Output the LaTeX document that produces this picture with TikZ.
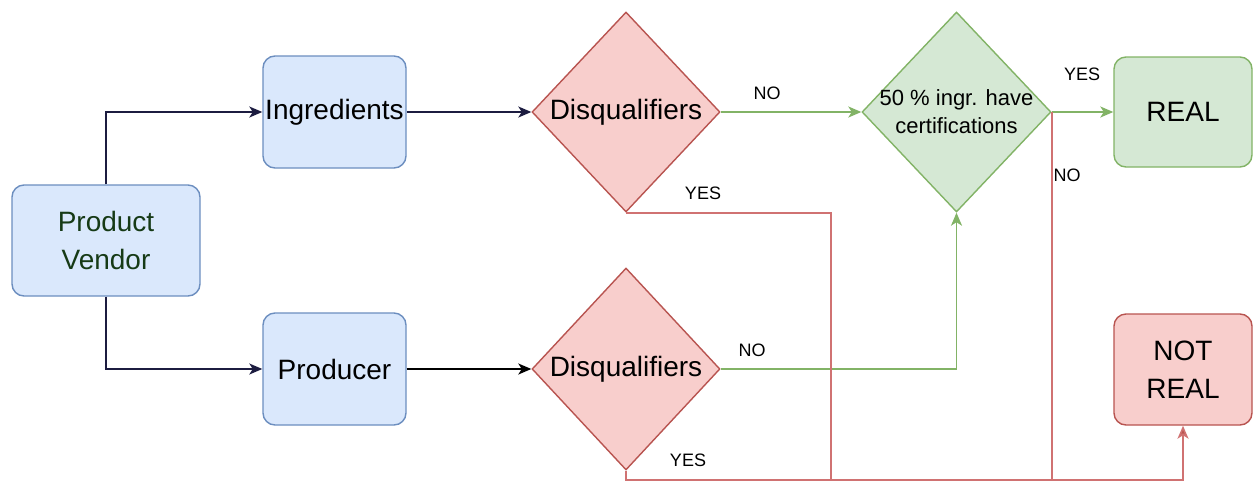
\documentclass[tikz,border=0pt]{standalone}
\usepackage{fontspec}
\setmainfont{Liberation Sans}
\usetikzlibrary{shapes.geometric,arrows.meta}
\definecolor{bfill}{HTML}{DAE8FC}
\definecolor{bdraw}{HTML}{6C8EBF}
\definecolor{rfill}{HTML}{F8CECC}
\definecolor{rdraw}{HTML}{B85450}
\definecolor{gfill}{HTML}{D5E8D4}
\definecolor{gdraw}{HTML}{82B366}
\definecolor{rline}{HTML}{D07272}
\definecolor{navy}{HTML}{1C1C40}
\definecolor{pvtext}{HTML}{163A16}
\begin{document}
\begin{tikzpicture}[x=1pt,y=-1pt,
  box/.style={rectangle,rounded corners=12pt,line width=1.4pt,inner sep=0pt,
    align=center,font=\fontsize{28}{38}\selectfont},
  bluebox/.style={box,draw=bdraw,fill=bfill},
  redbox/.style={box,draw=rdraw,fill=rfill},
  greenbox/.style={box,draw=gdraw,fill=gfill},
  dia/.style={diamond,inner sep=0pt,line width=1.4pt,align=center},
  reddia/.style={dia,draw=rdraw,fill=rfill,font=\fontsize{28}{34}\selectfont},
  greendia/.style={dia,draw=gdraw,fill=gfill},
  tip/.style={-{Stealth[length=13pt,width=11pt,inset=3.5pt]}},
  navyarrow/.style={tip,draw=navy,line width=1.6pt},
  blackarrow/.style={tip,draw=black,line width=1.6pt},
  greenarrow/.style={tip,draw=gdraw,line width=1.6pt},
  redline/.style={draw=rline,line width=1.6pt},
  redarrow/.style={redline,-{Stealth[length=13pt,width=11pt,inset=3.5pt,fill=rdraw]}},
  lbl/.style={font=\fontsize{18}{20}\selectfont,inner sep=0pt}]
\useasboundingbox (0,0) rectangle (1254,483);

% nodes
\node[bluebox,minimum width=188pt,minimum height=111pt,text=pvtext] (pv) at (106,240.5) {Product\\Vendor};
\node[bluebox,minimum width=143pt,minimum height=112pt] (ing) at (334.5,112) {Ingredients};
\node[bluebox,minimum width=143pt,minimum height=112pt] (pro) at (334.5,369) {Producer};
\node[reddia,minimum width=188pt,minimum height=200pt] (d1) at (626,112) {Disqualifiers};
\node[reddia,minimum width=188pt,minimum height=202pt] (d2) at (626,369) {Disqualifiers};
\node[greendia,minimum width=189pt,minimum height=200pt] (gd) at (956.5,112) {};
\node[align=center,inner sep=0pt,font=\fontsize{22}{28}\selectfont] (gdt) at (gd.center) {50 \% ingr. have\\certifications};
\node[greenbox,minimum width=138pt,minimum height=110pt] (real) at (1183,112) {REAL};
\node[redbox,minimum width=138pt,minimum height=111pt] (nr) at (1183,369.5) {NOT\\REAL};

\coordinate (j1) at (831,480);

% connectors
\draw[navyarrow] (pv.north) |- (ing.west);
\draw[navyarrow] (pv.south) |- (pro.west);
\draw[navyarrow] (ing.east) -- (d1.west);
\draw[blackarrow] (pro.east) -- (d2.west);
\draw[greenarrow] (d1.east) -- (gd.west);
\draw[greenarrow] (d2.east) -| (gd.south);
\draw[greenarrow] (gd.east) -- (real.west);
\draw[redline] (d1.south) -| (j1);
\draw[redline] (gd.east) -- (gd.east |- j1);
\draw[redarrow] (d2.south) |- (nr.south |- j1) -- (nr.south);

% labels
\node[lbl] (l1) at (767,93) {NO};
\node[lbl] (l2) at (752,350) {NO};
\node[lbl] (l3) at (703,193) {YES};
\node[lbl] (l4) at (688,460) {YES};
\node[lbl] (l5) at (1082,74) {YES};
\node[lbl] (l6) at (1067,175) {NO};
\end{tikzpicture}
\end{document}
